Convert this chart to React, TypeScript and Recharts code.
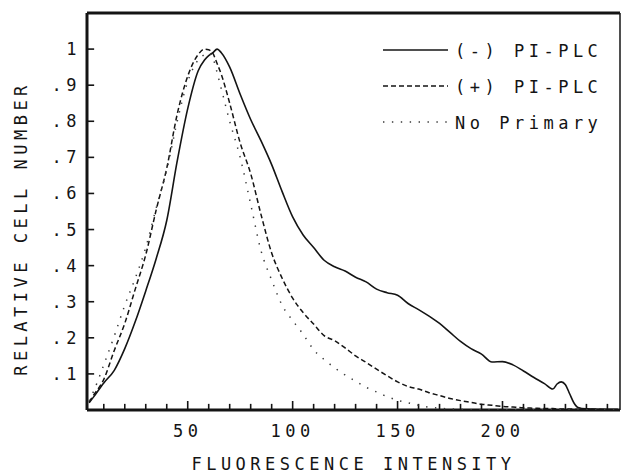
import { LineChart, Line, XAxis, YAxis, Legend, ReferenceLine } from "recharts";

const FONT = "'DejaVu Sans Mono', 'Liberation Mono', monospace";
const INK = "#141414";

// fluorescence intensity (channel) and relative cell number for each run
const intensity = [
  3, 5, 10, 15, 20, 25, 30, 35, 40, 45,
  50, 55, 58, 60, 62, 64, 66, 70, 75, 80,
  85, 90, 95, 100, 105, 110, 115, 120, 125, 130,
  135, 140, 145, 150, 155, 160, 165, 170, 175, 180,
  185, 190, 195, 200, 205, 210, 215, 220, 224, 226,
  228, 230, 232, 234, 236, 240, 245, 250, 255,
];

const minusPlc = [
  0.02, 0.035, 0.075, 0.11, 0.17, 0.245, 0.33, 0.42, 0.525, 0.69,
  0.835, 0.94, 0.97, 0.982, 0.99, 1.0, 0.99, 0.95, 0.875, 0.805,
  0.745, 0.68, 0.605, 0.535, 0.485, 0.45, 0.415, 0.397, 0.385, 0.368,
  0.355, 0.335, 0.325, 0.318, 0.295, 0.278, 0.26, 0.24, 0.215, 0.19,
  0.17, 0.155, 0.133, 0.134, 0.125, 0.108, 0.09, 0.073, 0.058, 0.072,
  0.078, 0.07, 0.045, 0.02, 0.007, 0.003, 0.002, 0.002, 0.002,
];

const plusPlc = [
  0.022, 0.04, 0.085, 0.165, 0.24, 0.335, 0.43, 0.555, 0.67, 0.82,
  0.925, 0.985, 1.0, 0.998, 0.988, 0.96, 0.93, 0.85, 0.74, 0.655,
  0.54, 0.435, 0.365, 0.31, 0.27, 0.238, 0.206, 0.192, 0.172, 0.15,
  0.132, 0.113, 0.095, 0.078, 0.065, 0.058, 0.048, 0.04, 0.032, 0.026,
  0.021, 0.016, 0.013, 0.01, 0.008, 0.006, 0.005, 0.004, 0.004, 0.003,
  0.003, 0.003, 0.003, 0.002, 0.002, 0.002, 0.002, 0.001, 0.001,
];

const noPrimary = [
  0.025, 0.05, 0.125, 0.205, 0.29, 0.365, 0.45, 0.56, 0.665, 0.8,
  0.91, 0.97, 0.985, 0.99, 0.975, 0.935, 0.89, 0.8, 0.7, 0.57,
  0.44, 0.36, 0.29, 0.248, 0.21, 0.167, 0.14, 0.117, 0.097, 0.08,
  0.063, 0.05, 0.037, 0.027, 0.02, 0.013, 0.008, 0.005, 0.003, 0.002,
  0.001, 0.001, 0.001, 0.001, 0.001, 0.001, 0.001, 0.001, 0.001, 0.001,
  0.001, 0.001, 0.001, 0.001, 0.001, 0.001, 0.001, 0.001, 0.001,
];

const seriesKeys = ["minus", "plus", "none"];
const seriesNames = ["(-) PI-PLC", "(+) PI-PLC", "No Primary"];
const seriesDash = [undefined, "5 3", "1.4 7.5"];
const seriesColor = [INK, INK, "#3a3a3a"];
const seriesWidth = [1.6, 1.5, 1.5];

const xTicks = [10, 20, 30, 40, 50, 60, 70, 80, 90, 100, 110, 120, 130, 140, 150, 160, 170, 180, 190, 200, 210, 220, 230, 240, 250];
const xMajor = [50, 100, 150, 200];
const xDomain = [2, 256];
const yTicks = [0.1, 0.2, 0.3, 0.4, 0.5, 0.6, 0.7, 0.8, 0.9, 1.0];
const yTickLabels = [".1", ".2", ".3", ".4", ".5", ".6", ".7", ".8", ".9", "1"];
const yDomain = [0, 1.1];

// inward tick lengths, in data units of the axis they stick into
const X_TICK_MINOR = 0.017;
const X_TICK_MAJOR = 0.025;
const Y_TICK = 3.4;

const rows = intensity.map((v, i) => ({
  intensity: v,
  minus: minusPlc[i],
  plus: plusPlc[i],
  none: noPrimary[i],
}));

const textStyle = { fontFamily: FONT, fontSize: 17, letterSpacing: 4.5, fill: INK };

function XTick(props: any) {
  const { x, y, payload } = props;
  if (!xMajor.includes(payload.value)) return <g />;
  return (
    <text x={x} y={y + 12} textAnchor="middle" style={textStyle}>
      {payload.value}
    </text>
  );
}

function YTick(props: any) {
  const { x, y, payload } = props;
  const label = yTickLabels[yTicks.indexOf(payload.value)] ?? "";
  return (
    <text x={x + 4} y={y + 6} textAnchor="end" style={textStyle}>
      {label}
    </text>
  );
}

function XTitle(props: any) {
  const { viewBox } = props;
  return (
    <text x={viewBox.x + viewBox.width / 2} y={viewBox.y + 60} textAnchor="middle" style={textStyle}>
      FLUORESCENCE INTENSITY
    </text>
  );
}

function YTitle(props: any) {
  const { viewBox } = props;
  const x = viewBox.x + 27;
  const y = viewBox.y + viewBox.height / 2 + 17;
  return (
    <text x={x} y={y} textAnchor="middle" transform={`rotate(-90, ${x}, ${y})`} style={textStyle}>
      RELATIVE CELL NUMBER
    </text>
  );
}

function LegendBox() {
  return (
    <svg width={232} height={108}>
      {seriesNames.map((name, i) => {
        const cy = 18 + i * 36;
        return (
          <g key={name}>
            <line x1={0} x2={65} y1={cy} y2={cy} stroke={seriesColor[i]} strokeWidth={seriesWidth[i]} strokeDasharray={seriesDash[i]} />
            <text x={72} y={cy + 6.5} style={textStyle}>
              {name}
            </text>
          </g>
        );
      })}
    </svg>
  );
}

export default function App() {
  return (
    <div style={{ position: "absolute", left: 0, top: 0, width: 621, height: 473, background: "#fff" }}>
      <LineChart width={621} height={473} data={rows} margin={{ top: 13, right: 1, bottom: 0, left: 0 }}>
        <XAxis
          xAxisId="main"
          type="number"
          dataKey="intensity"
          domain={xDomain}
          allowDataOverflow
          ticks={xTicks}
          interval={0}
          height={63}
          tickSize={0}
          tickMargin={15}
          tickLine={false}
          tick={<XTick />}
          axisLine={false}
          label={XTitle}
        />
        <YAxis
          yAxisId="main"
          type="number"
          domain={yDomain}
          allowDataOverflow
          ticks={yTicks}
          interval={0}
          width={87}
          tickSize={0}
          tickMargin={10}
          tickLine={false}
          tick={<YTick />}
          axisLine={false}
          label={YTitle}
        />
        {xTicks.map((t) => (
          <ReferenceLine
            key={`xt-${t}`}
            xAxisId="main"
            yAxisId="main"
            ifOverflow="visible"
            segment={[
              { x: t, y: yDomain[0] },
              { x: t, y: yDomain[0] + (xMajor.includes(t) ? X_TICK_MAJOR : X_TICK_MINOR) },
            ]}
            stroke={INK}
            strokeWidth={1.6}
          />
        ))}
        {yTicks.map((t) => (
          <ReferenceLine
            key={`yt-${t}`}
            xAxisId="main"
            yAxisId="main"
            ifOverflow="visible"
            segment={[
              { x: xDomain[0], y: t },
              { x: xDomain[0] + Y_TICK, y: t },
            ]}
            stroke={INK}
            strokeWidth={1.6}
          />
        ))}
        <ReferenceLine xAxisId="main" yAxisId="main" ifOverflow="visible" y={yDomain[1]} stroke={INK} strokeWidth={3} />
        <ReferenceLine xAxisId="main" yAxisId="main" ifOverflow="visible" y={yDomain[0]} stroke={INK} strokeWidth={3} />
        <ReferenceLine xAxisId="main" yAxisId="main" ifOverflow="visible" x={xDomain[0]} stroke={INK} strokeWidth={3} />
        <ReferenceLine xAxisId="main" yAxisId="main" ifOverflow="visible" x={xDomain[1]} stroke={INK} strokeWidth={1.5} />
        <Legend
          layout="vertical"
          align="center"
          verticalAlign="middle"
          wrapperStyle={{ left: 383, top: 32, width: 232, height: 108 }}
          content={() => <LegendBox />}
        />
        {seriesKeys.map((key, i) => (
          <Line
            key={key}
            xAxisId="main"
            yAxisId="main"
            type="monotone"
            dataKey={key}
            name={seriesNames[i]}
            stroke={seriesColor[i]}
            strokeWidth={seriesWidth[i]}
            strokeDasharray={seriesDash[i]}
            dot={false}
            activeDot={false}
            isAnimationActive={false}
          />
        ))}
      </LineChart>
    </div>
  );
}
